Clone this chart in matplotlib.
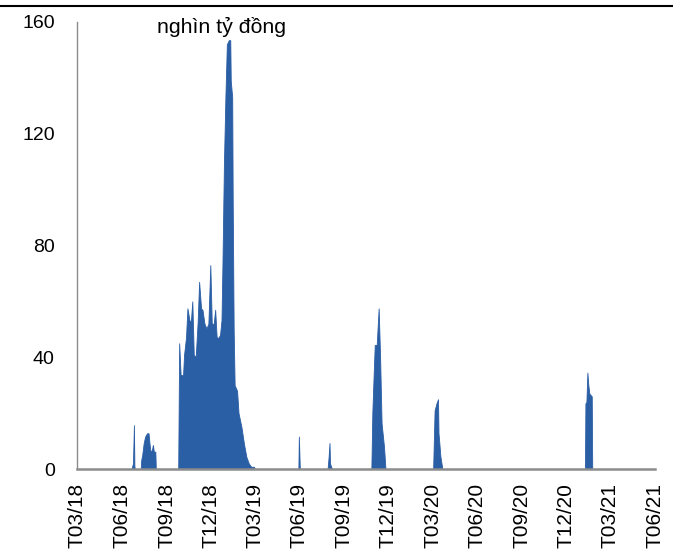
import matplotlib
matplotlib.use("Agg")
import matplotlib.pyplot as plt
import pandas as pd

# ---- data ----
dates = [
    "2018-03-01",
    # Jun 2018 spike
    "2018-06-21", "2018-06-24", "2018-06-26", "2018-06-27", "2018-06-28",
    # Jul-Aug 2018 cluster
    "2018-07-10", "2018-07-11", "2018-07-13", "2018-07-16", "2018-07-19", "2018-07-23",
    "2018-07-26", "2018-07-28", "2018-07-30", "2018-08-02", "2018-08-04", "2018-08-06",
    "2018-08-09", "2018-08-10",
    # Sep 2018 - Feb 2019 block
    "2018-09-25", "2018-09-27", "2018-09-30", "2018-10-05", "2018-10-07", "2018-10-11",
    "2018-10-14", "2018-10-18", "2018-10-21", "2018-10-24", "2018-10-27", "2018-10-31",
    "2018-11-04", "2018-11-07", "2018-11-11", "2018-11-14", "2018-11-18", "2018-11-22",
    "2018-11-26", "2018-11-30", "2018-12-03", "2018-12-07", "2018-12-10", "2018-12-13",
    "2018-12-16", "2018-12-20", "2018-12-23", "2018-12-25", "2018-12-28", "2018-12-31",
    "2019-01-03", "2019-01-07", "2019-01-10", "2019-01-11", "2019-01-14", "2019-01-15",
    "2019-01-17", "2019-01-19", "2019-01-24", "2019-01-27", "2019-02-02", "2019-02-07",
    "2019-02-12", "2019-02-17", "2019-02-22", "2019-02-28", "2019-03-01",
    # May-Jun 2019 spike
    "2019-05-30", "2019-05-31", "2019-06-02",
    # Aug 2019 spike
    "2019-07-29", "2019-07-31", "2019-08-02", "2019-08-03", "2019-08-06", "2019-08-07",
    # Nov 2019 block
    "2019-10-27", "2019-10-29", "2019-11-01", "2019-11-03", "2019-11-07", "2019-11-11",
    "2019-11-14", "2019-11-17", "2019-11-22", "2019-11-25",
    # Mar 2020 block
    "2020-03-02", "2020-03-05", "2020-03-09", "2020-03-12", "2020-03-13", "2020-03-17",
    "2020-03-21",
    # Jan 2021 block
    "2021-01-08", "2021-01-09", "2021-01-11", "2021-01-13", "2021-01-15", "2021-01-17",
    "2021-01-22", "2021-01-23",
    "2021-06-01",
]
values = [
    0,
    0, 2, 15.7, 1, 0,
    0, 3.2, 5, 9.2, 11.6, 12.8,
    12.8, 9.2, 6.2, 6.8, 8.6, 6.2,
    6.2, 0,
    0, 45, 33.6, 33.6, 40.8, 47,
    57.5, 53.3, 52.7, 60, 40.8, 40.2,
    52.7, 67, 57.5, 56.9, 52, 50.3,
    52, 73, 52, 52, 57, 47.3,
    46.8, 48, 53.3, 73.7, 109.5, 133,
    152, 153.5, 153.5, 139, 133, 97,
    50, 30, 28, 20, 15, 9.2,
    4.4, 2, 0.8, 0.8, 0,
    0, 11.6, 0,
    0, 4, 9.3, 2, 0.5, 0,
    0, 20, 35, 44.4, 44.4, 57.5,
    40, 16.4, 8, 0,
    0, 21, 23.6, 25, 12.9, 4.4,
    0,
    0, 23.5, 24, 34.5, 30, 27,
    26, 0,
    0,
]
y_ticks = [0, 40, 80, 120, 160]
tick_dates = ["2018-03-01", "2018-06-01", "2018-09-01", "2018-12-01", "2019-03-01",
              "2019-06-01", "2019-09-01", "2019-12-01", "2020-03-01", "2020-06-01",
              "2020-09-01", "2020-12-01", "2021-03-01", "2021-06-01"]
tick_labels = ["T03/18", "T06/18", "T09/18", "T12/18", "T03/19", "T06/19", "T09/19",
               "T12/19", "T03/20", "T06/20", "T09/20", "T12/20", "T03/21", "T06/21"]
unit_label = "nghìn tỷ đồng"

# ---- plot ----
plt.rcParams['font.family'] = ['Liberation Sans', 'DejaVu Sans']
W, H = 673, 551
fig = plt.figure(figsize=(W / 100, H / 100), dpi=100)
ax = fig.add_axes([77 / W, 1 - 469 / H, (655 - 77) / W, (469 - 22) / H])

x = pd.to_datetime(dates)
color = "#2A5EA5"
ax.fill_between(x, values, 0, color=color, linewidth=0.6, edgecolor=color)

ax.set_xlim(pd.Timestamp("2018-03-01"), pd.Timestamp("2021-06-01"))
ax.set_ylim(0, 160)
ax.set_yticks(y_ticks)
ax.set_yticklabels([str(v) for v in y_ticks])
ax.set_xticks(pd.to_datetime(tick_dates))
ax.set_xticklabels(tick_labels, rotation=90)

ax.tick_params(axis='both', length=0, colors='black')
ax.tick_params(axis='y', pad=16, labelsize=14)
ax.tick_params(axis='x', pad=10, labelsize=15)

for s in ['top', 'right']:
    ax.spines[s].set_visible(False)
ax.spines['left'].set_color('#8c8c8c')
ax.spines['left'].set_linewidth(1.0)
ax.spines['bottom'].set_color('#8c8c8c')
ax.spines['bottom'].set_linewidth(1.8)

fig.text(157 / W, 1 - 27 / H, unit_label, fontsize=15.3, ha='left', va='center')

# top separator line
fig.add_artist(plt.Line2D([0, 1], [1 - 6 / H, 1 - 6 / H], transform=fig.transFigure,
                          color='black', linewidth=1.5))

fig.savefig("out.png", dpi=100)
